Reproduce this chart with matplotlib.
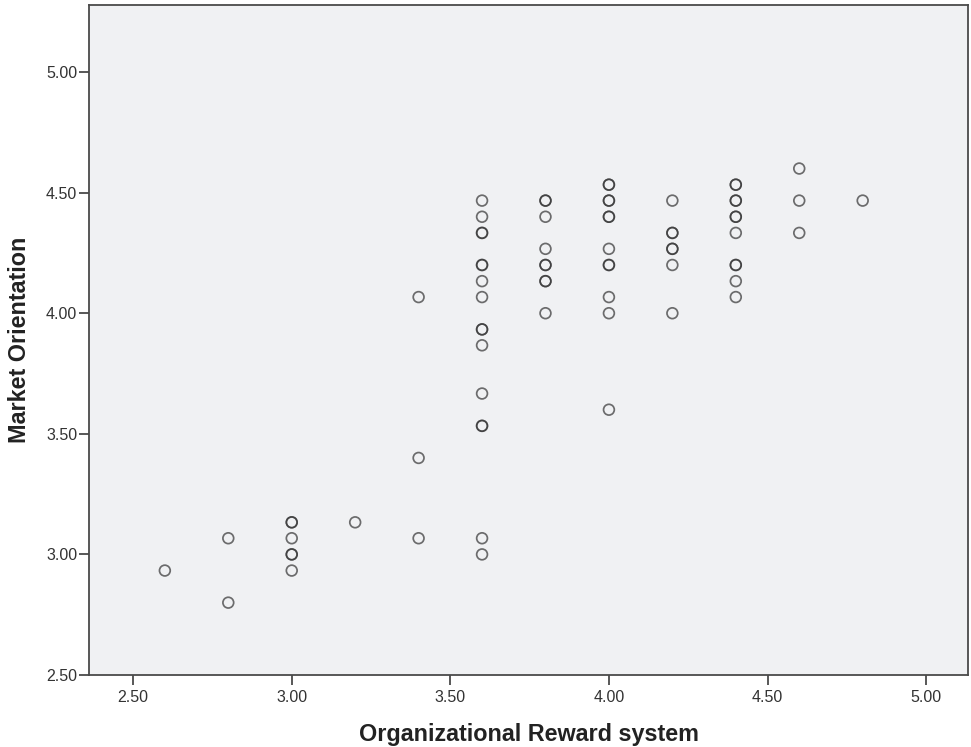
import matplotlib
matplotlib.use("Agg")
import matplotlib.pyplot as plt

plt.rcParams['font.family'] = ['Liberation Sans', 'DejaVu Sans']

# Organizational Reward system (x) vs Market Orientation (y); repeated pairs are listed twice
reward = [
    2.6,
    2.8, 2.8,
    3.0, 3.0, 3.0, 3.0, 3.0, 3.0,
    3.2,
    3.4, 3.4, 3.4,
    3.6, 3.6, 3.6, 3.6, 3.6, 3.6, 3.6, 3.6, 3.6, 3.6, 3.6, 3.6, 3.6, 3.6, 3.6, 3.6,
    3.8, 3.8, 3.8, 3.8, 3.8, 3.8, 3.8, 3.8, 3.8,
    4.0, 4.0, 4.0, 4.0, 4.0, 4.0, 4.0, 4.0, 4.0, 4.0, 4.0, 4.0,
    4.2, 4.2, 4.2, 4.2, 4.2, 4.2, 4.2,
    4.4, 4.4, 4.4, 4.4, 4.4, 4.4, 4.4, 4.4, 4.4, 4.4, 4.4,
    4.6, 4.6, 4.6,
    4.8,
]
market = [
    2.933,
    3.067, 2.800,
    3.133, 3.133, 3.067, 3.000, 3.000, 2.933,
    3.133,
    4.067, 3.400, 3.067,
    4.467, 4.400, 4.333, 4.333, 4.200, 4.200, 4.133, 4.067, 3.933, 3.933, 3.867, 3.667, 3.533, 3.533, 3.067, 3.000,
    4.467, 4.467, 4.400, 4.267, 4.200, 4.200, 4.133, 4.133, 4.000,
    4.533, 4.533, 4.467, 4.467, 4.400, 4.400, 4.267, 4.200, 4.200, 4.067, 4.000, 3.600,
    4.467, 4.333, 4.333, 4.267, 4.267, 4.200, 4.000,
    4.533, 4.533, 4.467, 4.467, 4.400, 4.400, 4.333, 4.200, 4.200, 4.133, 4.067,
    4.600, 4.467, 4.333,
    4.467,
]

x_ticks = [2.5, 3.0, 3.5, 4.0, 4.5, 5.0]
y_ticks = [2.5, 3.0, 3.5, 4.0, 4.5, 5.0]

fig = plt.figure(figsize=(9.71, 7.47), dpi=100)
ax = fig.add_axes([0.0917, 0.0964, 0.9052, 0.8969])
ax.set_facecolor('#f0f1f3')

ax.scatter(reward, market, s=60, facecolors='none',
           edgecolors=(0.2, 0.2, 0.2, 0.7), linewidths=1.25, zorder=3)

ax.set_xlim(2.361, 5.132)
ax.set_ylim(2.5, 5.278)
ax.set_xticks(x_ticks)
ax.set_yticks(y_ticks)
ax.set_xticklabels([f"{v:.2f}" for v in x_ticks])
ax.set_yticklabels([f"{v:.2f}" for v in y_ticks])

for side in ['top', 'right', 'left', 'bottom']:
    ax.spines[side].set_color('#4a4a4a')
    ax.spines[side].set_linewidth(1.3)

ax.tick_params(axis='both', direction='out', length=7.5, width=1.3,
               color='#4a4a4a', labelcolor='#333333', labelsize=11.5)
ax.tick_params(axis='y', pad=1)
ax.tick_params(axis='x', pad=3)

ax.set_xlabel('Organizational Reward system', fontsize=16.8, fontweight='bold',
              color='#222222', labelpad=13)
ax.set_ylabel('Market Orientation', fontsize=16.8, fontweight='bold',
              color='#222222', labelpad=11)

fig.savefig('out.png', dpi=100, facecolor='white')
